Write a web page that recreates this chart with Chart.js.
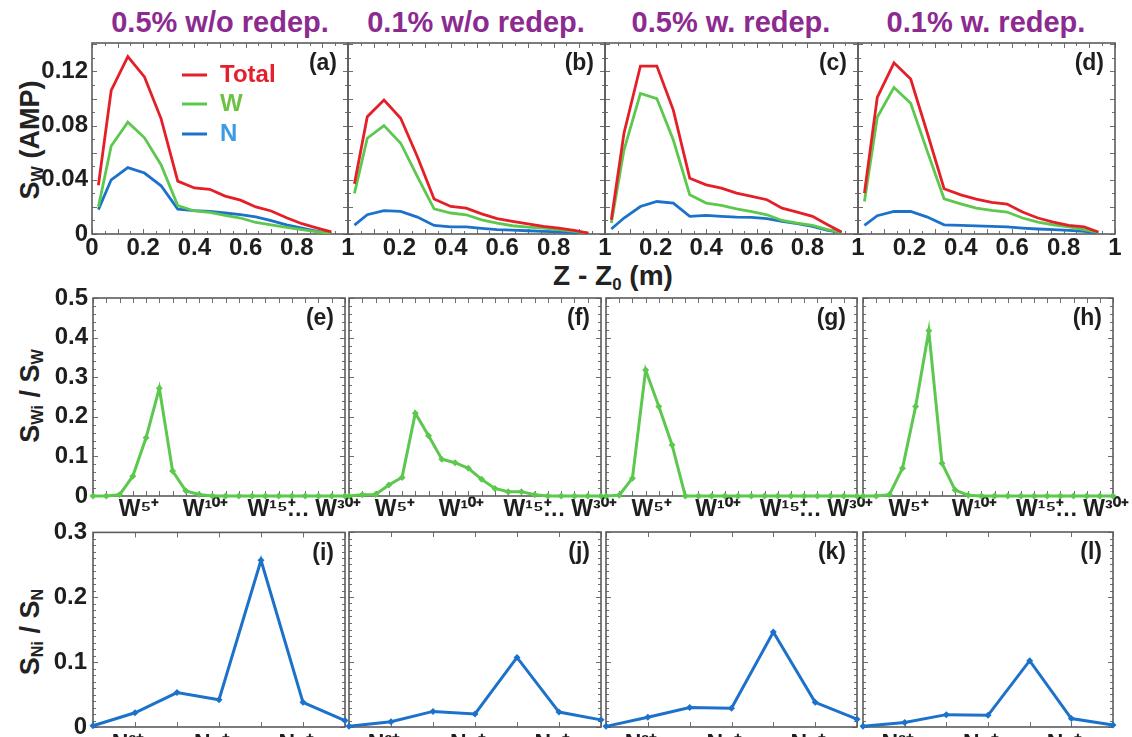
<!DOCTYPE html>
<html>
<head>
<meta charset="utf-8">
<script src="https://cdn.jsdelivr.net/npm/chart.js@4.4.1/dist/chart.umd.min.js"></script>
<style>
  html, body { margin: 0; padding: 0; background: #fff; }
  body { width: 1132px; height: 737px; overflow: hidden; position: relative;
         font-family: "Liberation Sans", Arial, sans-serif; }
  canvas.panel { position: absolute; }
  .title { position: absolute; font-weight: bold; font-size: 29px; line-height: 1;
           color: #8c2a90; transform: translate(-50%, -50%); white-space: nowrap; }
  .ylab { position: absolute; font-weight: bold; font-size: 27px; line-height: 1; color: #222;
          transform: translate(-50%, -50%) rotate(-90deg); white-space: nowrap; }
  .xlab { position: absolute; font-weight: bold; font-size: 28px; line-height: 1; color: #222;
          transform: translate(-50%, -50%); white-space: nowrap; }
  sub { font-size: 60%; vertical-align: -0.28em; line-height: 0; }
</style>
</head>
<body>
<div class="title" style="left:220px;top:22px">0.5% w/o redep.</div>
<div class="title" style="left:476px;top:22px">0.1% w/o redep.</div>
<div class="title" style="left:731px;top:22px">0.5% w. redep.</div>
<div class="title" style="left:986px;top:22px">0.1% w. redep.</div>
<div class="ylab" style="left:30px;top:140px">S<sub>W</sub> (AMP)</div>
<div class="ylab" style="left:30px;top:396px">S<sub>Wi</sub> / S<sub>W</sub></div>
<div class="ylab" style="left:30px;top:632px">S<sub>Ni</sub> / S<sub>N</sub></div>
<div class="xlab" style="left:613px;top:276px">Z - Z<sub>0</sub> (m)</div>

<script>
// ---- data ---------------------------------------------------------------
// Axial position of the emission profile points, Z - Z0 (m)
const zPos = [0.025, 0.075, 0.14, 0.205, 0.27, 0.335, 0.40, 0.46, 0.52, 0.58, 0.64, 0.70, 0.76, 0.82, 0.88, 0.935];

// S_W (AMP) profiles: total, tungsten, nitrogen contributions
const totA = [0.036, 0.106, 0.131, 0.116, 0.085, 0.039, 0.034, 0.033, 0.028, 0.025, 0.020, 0.017, 0.012, 0.0076, 0.0044, 0.0015];
const wA   = [0.020, 0.065, 0.0825, 0.071, 0.051, 0.021, 0.017, 0.016, 0.0137, 0.0118, 0.0085, 0.0068, 0.0049, 0.0032, 0.0015, 0.0005];
const nA   = [0.018, 0.040, 0.049, 0.045, 0.0356, 0.0184, 0.0172, 0.0167, 0.0155, 0.0143, 0.0126, 0.0099, 0.0068, 0.0044, 0.002, 0.0005];

const totB = [0.037, 0.0866, 0.0989, 0.0854, 0.057, 0.0258, 0.0203, 0.0191, 0.0149, 0.0113, 0.0093, 0.0075, 0.0056, 0.0044, 0.0027, 0.0007];
const wB   = [0.030, 0.0707, 0.080, 0.067, 0.0424, 0.0186, 0.0155, 0.0142, 0.0105, 0.0081, 0.0061, 0.005, 0.0044, 0.0032, 0.002, 0.0007];
const nB   = [0.0066, 0.0142, 0.0172, 0.0167, 0.0125, 0.0063, 0.0052, 0.0052, 0.0041, 0.0032, 0.0028, 0.0024, 0.002, 0.0015, 0.001, 0.0005];

const totC = [0.0105, 0.0744, 0.124, 0.124, 0.0915, 0.0412, 0.0363, 0.0339, 0.0302, 0.0277, 0.0253, 0.0191, 0.0162, 0.013, 0.0068, 0.0015];
const wC   = [0.0081, 0.062, 0.1038, 0.100, 0.0694, 0.0289, 0.0228, 0.0211, 0.0186, 0.0166, 0.0142, 0.010, 0.0081, 0.0063, 0.0032, 0.0012];
const nC   = [0.0037, 0.0118, 0.0203, 0.024, 0.0228, 0.013, 0.0137, 0.013, 0.0125, 0.0123, 0.0113, 0.0093, 0.0076, 0.0056, 0.0027, 0.0012];

const totD = [0.0302, 0.1009, 0.1264, 0.1144, 0.0744, 0.0334, 0.0289, 0.0258, 0.0233, 0.0221, 0.0162, 0.0118, 0.0088, 0.0063, 0.0052, 0.0015];
const wD   = [0.024, 0.0862, 0.1082, 0.0965, 0.0608, 0.026, 0.0223, 0.0191, 0.0174, 0.0162, 0.0118, 0.0088, 0.0068, 0.0052, 0.0032, 0.0012];
const nD   = [0.0063, 0.0135, 0.0166, 0.0166, 0.0125, 0.0068, 0.0063, 0.006, 0.0056, 0.0052, 0.0044, 0.0037, 0.0032, 0.0027, 0.002, 0.0007];

// Tungsten charge-state fractions S_Wi / S_W
const wStates = ['', '', '', '', 'W⁵⁺', '', '', '', '', 'W¹⁰⁺', '', '', '', '', 'W¹⁵⁺', '', '…', '', '', 'W³⁰⁺'];
const fracWE = [0, 0, 0.003, 0.05, 0.147, 0.272, 0.063, 0.013, 0.004, 0, 0, 0, 0, 0, 0, 0, 0, 0, 0, 0];
const fracWF = [0, 0.003, 0.004, 0.028, 0.047, 0.209, 0.152, 0.093, 0.084, 0.07, 0.042, 0.019, 0.011, 0.011, 0.003, 0, 0, 0, 0, 0];
const fracWG = [0, 0.002, 0.045, 0.318, 0.226, 0.129, 0, 0, 0, 0, 0, 0, 0, 0, 0, 0, 0, 0, 0, 0];
const fracWH = [0, 0, 0.003, 0.07, 0.226, 0.417, 0.083, 0.015, 0.002, 0, 0, 0, 0, 0, 0, 0, 0, 0, 0, 0];

// Nitrogen charge-state fractions S_Ni / S_N
const nStates = ['', 'N²⁺', '', 'N⁴⁺', '', 'N⁶⁺', ''];
const fracNI = [0.002, 0.022, 0.053, 0.042, 0.257, 0.038, 0.010];
const fracNJ = [0.001, 0.008, 0.024, 0.020, 0.107, 0.023, 0.011];
const fracNK = [0.001, 0.015, 0.030, 0.029, 0.146, 0.038, 0.012];
const fracNL = [0.001, 0.007, 0.019, 0.018, 0.102, 0.013, 0.003];

// Tick labels
const zTicks = [0, 0.2, 0.4, 0.6, 0.8, 1];
const swTicks = [0, 0.04, 0.08, 0.12];
const fracWTicks = [0, 0.1, 0.2, 0.3, 0.4, 0.5];
const fracNTicks = [0, 0.1, 0.2, 0.3];

// ---- styling --------------------------------------------------------------
const RED = '#e41f28', GREEN = '#5cc84e', BLUE = '#1c72cb';
const INK = '#1e1e1e';
const FONT = '"Liberation Sans", Arial, sans-serif';
Chart.defaults.font.family = FONT;
Chart.defaults.font.weight = 'bold';

const fmt = v => String(+v.toFixed(3));
const steps = (lo, hi, st) => { const out = []; for (let v = lo; v <= hi + 1e-9; v += st) out.push(+v.toFixed(4)); return out; };

// Box frame with inward tick marks on all four sides, drawn under the data
const framePlugin = {
  id: 'frame',
  beforeDatasetsDraw(chart, args, o) {
    const { ctx, chartArea: a, scales: { x, y } } = chart;
    ctx.save();
    ctx.strokeStyle = '#6e6e6e';
    ctx.lineWidth = 1;
    ctx.beginPath();
    const xt = [[o.xMinor, 3], [o.xMajor, 5]];
    const yt = [[o.yMinor, 3], [o.yMajor, 5]];
    for (const [vals, len] of xt) for (const v of vals) {
      const p = Math.round(x.getPixelForValue(v)) + 0.5;
      ctx.moveTo(p, a.bottom); ctx.lineTo(p, a.bottom - len);
      ctx.moveTo(p, a.top); ctx.lineTo(p, a.top + len);
    }
    for (const [vals, len] of yt) for (const v of vals) {
      const p = Math.round(y.getPixelForValue(v)) + 0.5;
      ctx.moveTo(a.left, p); ctx.lineTo(a.left + len, p);
      ctx.moveTo(a.right, p); ctx.lineTo(a.right - len, p);
    }
    ctx.stroke();
    ctx.lineWidth = 1.6;
    ctx.strokeStyle = '#5c5c5c';
    ctx.strokeRect(a.left, a.top, a.right - a.left, a.bottom - a.top);
    ctx.restore();
  }
};

// Panel tag "(a)" and, where requested, the series key
const decorPlugin = {
  id: 'decor',
  afterDraw(chart, args, o) {
    const { ctx, chartArea: a } = chart;
    ctx.save();
    ctx.font = `bold 23px ${FONT}`;
    ctx.textBaseline = 'middle';
    ctx.textAlign = 'right';
    ctx.fillStyle = INK;
    ctx.fillText(o.tag, a.right - 11, a.top + 21);
    if (o.key) {
      ctx.font = `bold 24px ${FONT}`;
      ctx.textAlign = 'left';
      const rows = [32, 61, 91];
      chart.data.datasets.forEach((ds, i) => {
        const yy = a.top + rows[i];
        ctx.strokeStyle = ds.borderColor;
        ctx.lineWidth = 3;
        ctx.beginPath(); ctx.moveTo(a.left + 90, yy); ctx.lineTo(a.left + 115, yy); ctx.stroke();
        ctx.fillStyle = ds.keyColor;
        ctx.fillText(ds.label, a.left + 128, yy);
      });
    }
    ctx.restore();
  }
};

// ---- panel builder ---------------------------------------------------------
const ML = 80, MR = 30, MT = 20, MB = 40;

function panel(geo, cfg) {
  const [left, right, top, bottom] = geo;
  const cv = document.createElement('canvas');
  cv.className = 'panel';
  const w = right - left + ML + MR, h = bottom - top + MT + MB;
  cv.width = w; cv.height = h;
  cv.style.left = (left - ML) + 'px';
  cv.style.top = (top - MT) + 'px';
  cv.style.width = w + 'px'; cv.style.height = h + 'px';
  document.body.appendChild(cv);

  const xScale = cfg.categories
    ? { type: 'category', offset: false }
    : { type: 'linear', min: 0, max: 1,
        afterBuildTicks: s => { s.ticks = zTicks.map(v => ({ value: v })); } };
  Object.assign(xScale, {
    grid: { display: false, drawTicks: false },
    border: { display: false },
    ticks: {
      color: INK, padding: cfg.xPad, autoSkip: false, maxRotation: 0, minRotation: 0,
      labelOffset: cfg.categories ? -7 : 0,
      font: { size: cfg.categories ? 23 : 24, weight: 'bold' },
      callback: cfg.categories
        ? function (v) { return this.getLabelForValue(v); }
        : v => (cfg.col > 0 && v === 0) ? '' : fmt(v)
    },
    afterFit: s => { s.height = MB; }
  });

  return new Chart(cv, {
    type: 'line',
    data: { labels: cfg.categories, datasets: cfg.datasets },
    options: {
      responsive: false, animation: false, devicePixelRatio: 1,
      layout: { padding: { left: 0, right: MR, top: MT, bottom: 0 } },
      plugins: {
        legend: { display: false }, tooltip: { enabled: false },
        frame: cfg.frame,
        decor: { tag: cfg.tag, key: !!cfg.key }
      },
      scales: {
        x: xScale,
        y: {
          type: 'linear', min: 0, max: cfg.yMax,
          grid: { display: false, drawTicks: false },
          border: { display: false },
          afterBuildTicks: s => { s.ticks = cfg.yTicks.map(v => ({ value: v })); },
          ticks: { display: cfg.col === 0, color: INK, padding: cfg.yPad,
                   font: { size: 24, weight: 'bold' }, callback: v => fmt(v) },
          afterFit: s => { s.width = ML; }
        }
      }
    },
    plugins: [framePlugin, decorPlugin]
  });
}

const profileSet = (tot, w, n) => [
  { label: 'Total', data: zPos.map((z, i) => ({ x: z, y: tot[i] })), borderColor: RED, keyColor: '#e3202b' },
  { label: 'W', data: zPos.map((z, i) => ({ x: z, y: w[i] })), borderColor: GREEN, keyColor: '#6cc242' },
  { label: 'N', data: zPos.map((z, i) => ({ x: z, y: n[i] })), borderColor: BLUE, keyColor: '#3d9be3' }
].map(d => Object.assign(d, { borderWidth: 2.8, pointRadius: 0, tension: 0, fill: false }));

const fracSet = (vals, color) => [{
  data: vals, borderColor: color, backgroundColor: color, borderWidth: 3,
  pointStyle: 'rectRot', pointRadius: 3.5, pointBorderWidth: 0, tension: 0, fill: false, clip: false
}];

// ---- layout ----------------------------------------------------------------
const topCols = [[92, 348], [348, 605], [605, 858], [858, 1115]];
const lowCols = [[93, 345], [349, 601], [606, 857], [863, 1113]];
const rowTop = [43, 234], rowMid = [298, 496], rowBot = [532, 727];

const profiles = [[totA, wA, nA], [totB, wB, nB], [totC, wC, nC], [totD, wD, nD]];
const wFracs = [fracWE, fracWF, fracWG, fracWH];
const nFracs = [fracNI, fracNJ, fracNK, fracNL];
const tags = [['(a)', '(b)', '(c)', '(d)'], ['(e)', '(f)', '(g)', '(h)'], ['(i)', '(j)', '(k)', '(l)']];

for (let c = 0; c < 4; c++) {
  panel([...topCols[c], ...rowTop], {
    col: c, tag: tags[0][c], key: c === 0,
    datasets: profileSet(...profiles[c]),
    yMax: 0.141, yTicks: swTicks, xPad: 0, yPad: 4,
    frame: { xMajor: steps(0, 1, 0.1), xMinor: steps(0, 1, 0.05), yMajor: steps(0, 0.14, 0.02), yMinor: steps(0, 0.14, 0.01) }
  });
  const idxW = wStates.map((_, i) => i);
  panel([...lowCols[c], ...rowMid], {
    col: c, tag: tags[1][c], categories: wStates,
    datasets: fracSet(wFracs[c], GREEN),
    yMax: 0.5, yTicks: fracWTicks, xPad: 0, yPad: 5,
    frame: { xMajor: idxW, xMinor: [], yMajor: steps(0, 0.5, 0.1), yMinor: steps(0, 0.5, 0.02) }
  });
  const idxN = nStates.map((_, i) => i);
  panel([...lowCols[c], ...rowBot], {
    col: c, tag: tags[2][c], categories: nStates,
    datasets: fracSet(nFracs[c], BLUE),
    yMax: 0.3, yTicks: fracNTicks, xPad: 4, yPad: 6,
    frame: { xMajor: idxN, xMinor: [], yMajor: steps(0, 0.3, 0.1), yMinor: steps(0, 0.3, 0.01) }
  });
}
</script>
</body>
</html>
